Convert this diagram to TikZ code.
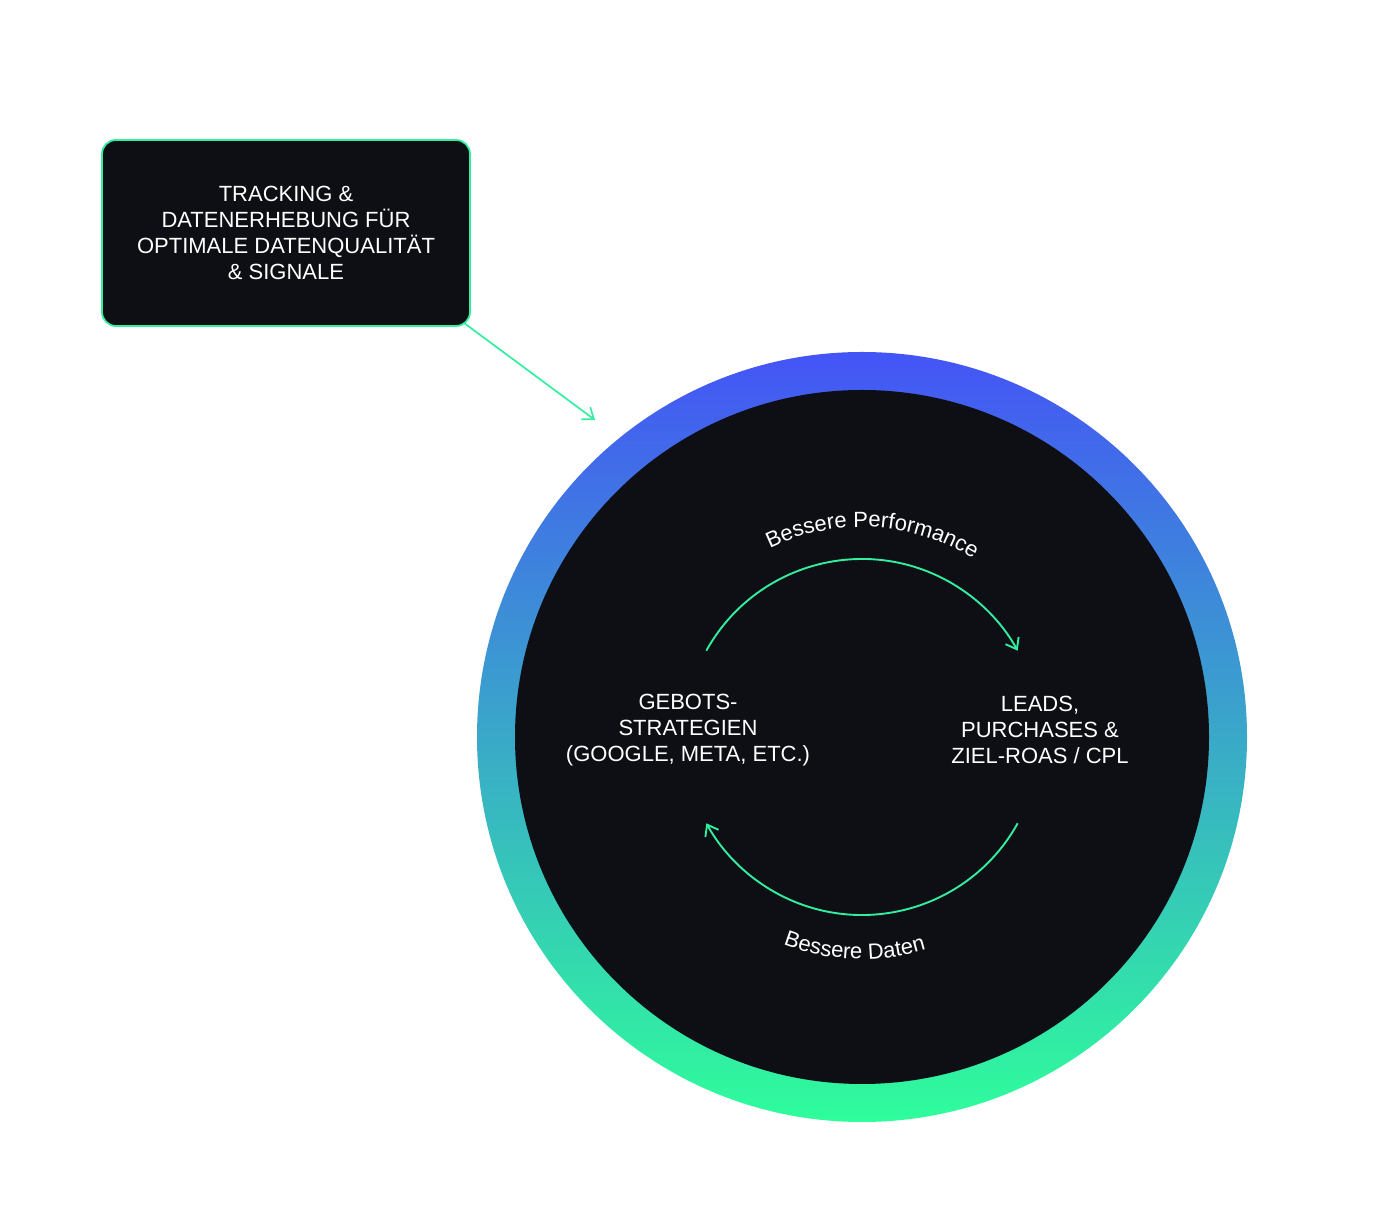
\documentclass[tikz,border=0pt]{standalone}
\usepackage{fontspec}
\setmainfont{Liberation Sans}
\usetikzlibrary{arrows.meta,decorations.text,calc}

\definecolor{night}{HTML}{0D0F14}
\definecolor{mint}{HTML}{33EE9E}
\definecolor{ringblue}{HTML}{4454F6}
\definecolor{ringgreen}{HTML}{2FFD9B}

\tikzset{
  caps/.style={text=white, align=center, font=\fontsize{22}{26}\selectfont},
  cyclearrow/.style={mint, line width=1.9pt, -{Straight Barb[length=10pt,width=15pt]}},
  curvelabel/.style={decorate, decoration={text along path, text align=center,
      text color=white, text={|\fontsize{22}{25}\selectfont|#1}}}
}

\begin{document}
\begin{tikzpicture}[x=1pt,y=1pt]
    \useasboundingbox (0,0) rectangle (1397,1226);

    % gradient ring and dark disc
    \coordinate (c) at (862,489);
    \shade[top color=ringblue, bottom color=ringgreen] (c) circle[radius=385pt];
    \fill[night] (c) circle[radius=347pt];

    % box at the top left
    \node[caps, draw=mint, line width=1.8pt, fill=night, rounded corners=14pt,
          minimum width=368pt, minimum height=186pt] (track) at (286,993)
          {TRACKING \&\\DATENERHEBUNG FÜR\\OPTIMALE DATENQUALITÄT\\\& SIGNALE};
    \coordinate (tip) at (595,806);
    \draw[cyclearrow, line width=1.7pt] ($(track.south east)+(-7,4)$) -- (tip);

    % the two sides of the loop
    \node[caps] (bids) at (688,496) {GEBOTS-\\STRATEGIEN\\(GOOGLE, META, ETC.)};
    \node[caps] (leads) at (1040,496) {LEADS,\\PURCHASES \&\\ZIEL-ROAS / CPL};

    % upper arc, left to right
    \coordinate (upstart) at ($(c)+(151:178pt)$);
    \draw[cyclearrow] (upstart) arc[start angle=151, end angle=29, radius=178pt];
    \path[curvelabel={Bessere Performance}] ($(c)+(147:210pt)$)
        arc[start angle=147, end angle=27, radius=210pt];

    % lower arc, right to left
    \coordinate (lowstart) at ($(c)+(-29:178pt)$);
    \draw[cyclearrow] (lowstart) arc[start angle=-29, end angle=-151, radius=178pt];
    \path[curvelabel={Bessere Daten}] ($(c)+(198:222pt)$)
        arc[start angle=198, end angle=338, radius=222pt];
\end{tikzpicture}
\end{document}
